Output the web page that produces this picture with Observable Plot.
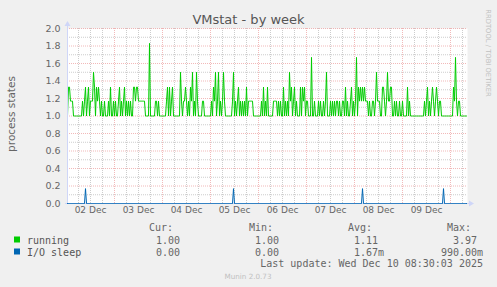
<!DOCTYPE html>
<html><head><meta charset="utf-8">
<script src="https://cdn.jsdelivr.net/npm/d3@7"></script>
<script src="https://cdn.jsdelivr.net/npm/@observablehq/plot@0.6"></script>
<style>
html,body{margin:0;padding:0;background:#f0f0f0;}
#chart{width:497px;height:287px;overflow:hidden;}
svg{display:block}
</style></head><body><div id="chart"></div>
<script>
const title = "VMstat - by week";
const yLabel = "process states";
const sideText = "RRDTOOL / TOBI OETIKER";
const footer = "Munin 2.0.73";
const lastUpdate = "Last update: Wed Dec 10 08:30:03 2025";

// samples every 30 minutes, first sample at 2025-12-02 00:30 UTC
const startTime = Date.UTC(2025, 11, 2, 0, 30);
const stepMs = 30 * 60 * 1000;
const sampleCount = 400;

const running = [
 1.0,1.33,1.33,1.17,1.17,1.17,1.0,1.0,1.0,1.0,
 1.0,1.0,1.0,1.0,1.0,1.17,1.0,1.17,1.33,1.0,
 1.17,1.33,1.0,1.17,1.17,1.17,1.5,1.33,1.0,1.33,
 1.17,1.33,1.17,1.0,1.17,1.0,1.0,1.17,1.0,1.0,
 1.0,1.17,1.0,1.33,1.0,1.0,1.17,1.0,1.17,1.0,
 1.0,1.17,1.33,1.0,1.17,1.0,1.17,1.33,1.0,1.17,
 1.0,1.17,1.0,1.17,1.0,1.0,1.33,1.33,1.17,1.33,
 1.33,1.17,1.17,1.17,1.17,1.17,1.17,1.17,1.0,1.0,
 1.0,1.0,1.83,1.0,1.0,1.0,1.0,1.0,1.17,1.17,
 1.0,1.17,1.0,1.0,1.0,1.0,1.0,1.0,1.0,1.17,
 1.33,1.0,1.33,1.0,1.17,1.33,1.0,1.0,1.0,1.0,
 1.0,1.0,1.0,1.5,1.17,1.0,1.17,1.17,1.33,1.17,
 1.0,1.17,1.0,1.33,1.17,1.5,1.0,1.17,1.0,1.5,
 1.17,1.0,1.0,1.0,1.0,1.17,1.17,1.0,1.0,1.0,
 1.0,1.0,1.0,1.0,1.17,1.0,1.33,1.17,1.5,1.0,
 1.17,1.5,1.0,1.17,1.0,1.17,1.5,1.17,1.0,1.0,
 1.0,1.0,1.0,1.0,1.0,1.17,1.5,1.0,1.17,1.0,
 1.17,1.33,1.0,1.17,1.0,1.17,1.0,1.17,1.0,1.33,
 1.0,1.17,1.17,1.17,1.17,1.17,1.0,1.0,1.0,1.0,
 1.0,1.0,1.0,1.0,1.17,1.0,1.33,1.0,1.17,1.0,
 1.33,1.0,1.0,1.0,1.0,1.0,1.17,1.17,1.17,1.17,
 1.0,1.17,1.0,1.17,1.0,1.0,1.33,1.0,1.17,1.0,
 1.17,1.0,1.5,1.17,1.33,1.0,1.17,1.33,1.0,1.17,
 1.0,1.0,1.0,1.33,1.0,1.33,1.17,1.33,1.0,1.17,
 1.17,1.0,1.0,1.0,1.67,1.0,1.0,1.17,1.0,1.0,
 1.0,1.17,1.0,1.17,1.0,1.0,1.17,1.0,1.17,1.5,
 1.0,1.0,1.0,1.17,1.0,1.17,1.0,1.17,1.0,1.17,
 1.17,1.0,1.17,1.0,1.0,1.17,1.17,1.0,1.33,1.0,
 1.17,1.0,1.0,1.17,1.33,1.0,1.17,1.0,1.17,1.67,
 1.0,1.33,1.17,1.33,1.17,1.33,1.17,1.33,1.17,1.17,
 1.17,1.0,1.17,1.0,1.0,1.17,1.17,1.0,1.17,1.5,
 1.17,1.17,1.17,1.0,1.0,1.33,1.33,1.17,1.0,1.17,
 1.5,1.17,1.17,1.33,1.33,1.0,1.0,1.17,1.0,1.17,
 1.0,1.0,1.17,1.0,1.0,1.17,1.0,1.0,1.0,1.0,
 1.33,1.0,1.17,1.0,1.0,1.0,1.0,1.0,1.0,1.0,
 1.0,1.0,1.0,1.0,1.0,1.0,1.0,1.17,1.0,1.17,
 1.33,1.0,1.17,1.0,1.17,1.33,1.17,1.0,1.17,1.33,
 1.17,1.0,1.17,1.17,1.0,1.0,1.0,1.0,1.0,1.0,
 1.0,1.0,1.0,1.0,1.0,1.0,1.33,1.17,1.67,1.17,
 1.0,1.17,1.17,1.0,1.0,1.0,1.0,1.0,1.0,1.0
];
// I/O sleep is 0 except these samples
const ioSleepSpikeIndex = [18, 166, 295, 376];
const ioSleepSpikeValue = [0.17, 0.17, 0.17, 0.17];

const xTickDays = [2, 3, 4, 5, 6, 7, 8, 9];
const xTickLabels = ["02 Dec", "03 Dec", "04 Dec", "05 Dec", "06 Dec", "07 Dec", "08 Dec", "09 Dec"];
const yTicks = [0, 0.2, 0.4, 0.6, 0.8, 1.0, 1.2, 1.4, 1.6, 1.8, 2.0];
const yMinor = [0.1, 0.3, 0.5, 0.7, 0.9, 1.1, 1.3, 1.5, 1.7, 1.9];

const seriesNames = ["running", "I/O sleep"];
const seriesColors = ["#00cc00", "#0066b3"];
const statHeaders = ["Cur:", "Min:", "Avg:", "Max:"];
const runningStats = ["  1.00", "  1.00", "  1.11", "  3.97"];
const ioSleepStats = ["  0.00", "  0.00", "  1.67m", "990.00m"];

// ---- build tables ----
const runningData = running.map((v, i) => ({t: new Date(startTime + i * stepMs), v}));
const ioData = running.map((_, i) => ({t: new Date(startTime + i * stepMs), v: 0}));
ioSleepSpikeIndex.forEach((idx, k) => { ioData[idx].v = ioSleepSpikeValue[k]; });

const xDomain = [new Date(startTime), new Date(startTime + sampleCount * stepMs)];
const allSix = d3.utcHour.every(6).range(new Date(startTime), xDomain[1]);
const majorX = allSix.filter(d => d.getUTCHours() === 0);
const minorX = allSix.filter(d => d.getUTCHours() !== 0);
const noonTicks = xTickDays.map(d => new Date(Date.UTC(2025, 11, d, 12)));

const AXIS = "#CFD6F8", FONT = "#666666";
const GRID = "rgba(143,143,143,0.45)", MGRID = "rgba(222,79,79,0.4)";

const plot = Plot.plot({
  width: 497, height: 287,
  marginLeft: 67, marginRight: 30, marginTop: 28, marginBottom: 84,
  x: {type: "utc", domain: xDomain, axis: null},
  y: {domain: [0, 2], axis: null},
  style: {background: "#f0f0f0", fontFamily: "DejaVu Sans"},
  marks: [
    Plot.frame({fill: "white", stroke: null}),
    Plot.ruleY(yMinor, {stroke: GRID, strokeDasharray: "1,1", strokeWidth: 1}),
    Plot.ruleX(minorX, {stroke: GRID, strokeDasharray: "1,1", strokeWidth: 1}),
    Plot.ruleY(yTicks.filter(d => d > 0), {stroke: MGRID, strokeDasharray: "1,1", strokeWidth: 1}),
    Plot.ruleX(majorX, {stroke: MGRID, strokeDasharray: "1,1", strokeWidth: 1}),
    Plot.text(yTicks, {y: d => d, frameAnchor: "left", dx: -7, textAnchor: "end",
      text: d => d.toFixed(1), fill: FONT, fontSize: 9.5, fontFamily: "DejaVu Sans"}),
    Plot.text(noonTicks, {x: d => d, frameAnchor: "bottom", dy: 9,
      text: (d, i) => xTickLabels[xTickDays.indexOf(d.getUTCDate())], fill: FONT, fontSize: 9, fontFamily: "DejaVu Sans"}),
    Plot.line(runningData, {x: "t", y: "v", stroke: seriesColors[0], strokeWidth: 1}),
    Plot.line(ioData, {x: "t", y: "v", stroke: seriesColors[1], strokeWidth: 1})
  ]
});

document.getElementById("chart").appendChild(plot);
const svg = d3.select(plot);
const xs = plot.scale("x"), ys = plot.scale("y");
const x0 = xs.range[0], x1 = xs.range[1];
const y0 = ys.range[0], y1 = ys.range[1];

// axis lines and arrows
const ax = svg.append("g");
ax.append("line").attr("x1", x0 + 0.5).attr("x2", x0 + 0.5).attr("y1", y0 + 1).attr("y2", y1 - 3)
  .attr("stroke", AXIS);
ax.append("line").attr("x1", x0 - 2).attr("x2", x1 + 3).attr("y1", y0 + 0.5).attr("y2", y0 + 0.5)
  .attr("stroke", AXIS);
ax.append("path").attr("d", `M${x0 - 2.5},${y1 - 2}L${x0 + 0.5},${y1 - 7}L${x0 + 3.5},${y1 - 2}Z`).attr("fill", AXIS);
ax.append("path").attr("d", `M${x1 + 2},${y0 - 2.5}L${x1 + 7},${y0 + 0.5}L${x1 + 2},${y0 + 3.5}Z`).attr("fill", AXIS);
// redraw IO line over axis
svg.node().appendChild(svg.selectAll("g[aria-label='line']").nodes().slice(-1)[0]);

// title
svg.append("text").attr("x", 248.5).attr("y", 23.5).attr("text-anchor", "middle")
  .attr("font-family", "DejaVu Sans").attr("font-size", 13).attr("fill", "#555").text(title);
// y label
svg.append("text").attr("transform", "translate(15,114) rotate(-90)").attr("text-anchor", "middle")
  .attr("font-family", "DejaVu Sans").attr("font-size", 10.5).attr("fill", FONT).text(yLabel);
// side text
svg.append("text").attr("transform", "translate(486,53) rotate(90)").attr("text-anchor", "middle")
  .attr("font-family", "DejaVu Sans").attr("font-size", 6.8).attr("fill", "#c0c0c0").text(sideText);

// legend
const mono = "DejaVu Sans Mono";
const colStart = [149, 249, 348, 447];
const valStart = [144, 243, 342, 441];
const lg = svg.append("g").attr("font-family", mono).attr("font-size", 10).attr("fill", FONT)
  .attr("text-anchor", "start").style("white-space", "pre");
statHeaders.forEach((h, i) => lg.append("text").attr("x", colStart[i]).attr("y", 230.5).text(h));
const rowsY = [243.5, 255.5];
[runningStats, ioSleepStats].forEach((stats, r) => {
  lg.append("rect").attr("x", 14).attr("y", rowsY[r] - 7).attr("width", 6).attr("height", 6)
    .attr("fill", seriesColors[r]);
  lg.append("text").attr("x", 27).attr("y", rowsY[r]).attr("fill", "#555").text(seriesNames[r]);
  stats.forEach((s, i) => lg.append("text").attr("x", valStart[i]).attr("y", rowsY[r])
    .attr("xml:space", "preserve").text(s));
});
lg.append("text").attr("x", 483).attr("y", 266.5).attr("text-anchor", "end").text(lastUpdate);
svg.append("text").attr("x", 248).attr("y", 279).attr("text-anchor", "middle")
  .attr("font-family", "DejaVu Sans").attr("font-size", 7.2).attr("fill", "#c0c0c0").text(footer);
</script></body></html>
